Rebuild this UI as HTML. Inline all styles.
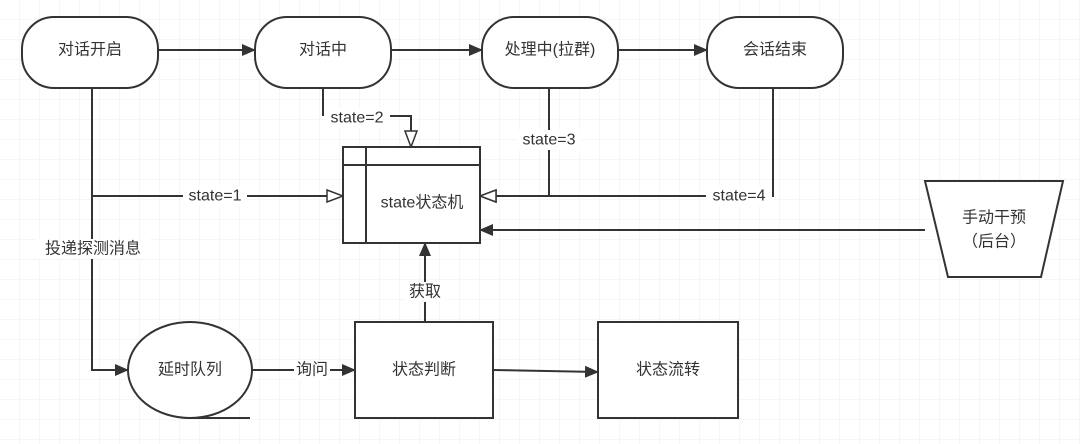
<!DOCTYPE html>
<html><head><meta charset="utf-8"><style>
html,body{margin:0;padding:0;background:#fff}
svg{display:block}
text{font-family:"Liberation Sans","Noto Sans CJK SC",sans-serif;font-size:16px;fill:#333;text-anchor:middle;dominant-baseline:central}
</style></head><body>
<svg width="1080" height="444" viewBox="0 0 1080 444" xmlns="http://www.w3.org/2000/svg">
<defs>
<pattern id="g" width="20" height="20" patternUnits="userSpaceOnUse">
<path d="M20 0V20M0 20H20" fill="none" stroke="#ececec" stroke-width="1"/>
</pattern>
<marker id="f" markerWidth="14" markerHeight="12" refX="13" refY="6" orient="auto" markerUnits="userSpaceOnUse">
<path d="M0 0L14 6L0 12Z" fill="#333"/></marker>
<marker id="h" markerWidth="18" markerHeight="14" refX="17" refY="7" orient="auto" markerUnits="userSpaceOnUse">
<path d="M1 1L17 7L1 13Z" fill="#fff" stroke="#333" stroke-width="1.5"/></marker>
</defs>
<rect width="1080" height="444" fill="url(#g)"/>
<g stroke="#333" stroke-width="2" fill="#fff">
<rect x="22" y="17" width="136" height="71" rx="32"/>
<rect x="255" y="17" width="136" height="71" rx="32"/>
<rect x="482" y="17" width="136" height="71" rx="32"/>
<rect x="707" y="17" width="136" height="71" rx="32"/>
<rect x="343" y="147" width="137" height="96"/>
<line x1="366" y1="147" x2="366" y2="243"/>
<line x1="343" y1="165" x2="480" y2="165"/>
<ellipse cx="190" cy="370" rx="62" ry="48"/>
<rect x="355" y="322" width="138" height="96"/>
<rect x="598" y="322" width="140" height="96"/>
<path d="M925 181H1063L1041 277H948Z"/>
</g>
<g stroke="#333" stroke-width="2" fill="none">
<line x1="158" y1="50" x2="255" y2="50" marker-end="url(#f)"/>
<line x1="391" y1="50" x2="482" y2="50" marker-end="url(#f)"/>
<line x1="618" y1="50" x2="707" y2="50" marker-end="url(#f)"/>
<path d="M323 88V116"/>
<path d="M390 116H411V147" marker-end="url(#h)"/>
<path d="M549 88V196H480" marker-end="url(#h)"/>
<path d="M773 88V196H480" marker-end="url(#h)"/>
<path d="M92 88V370H128" marker-end="url(#f)"/>
<path d="M92 196H343" marker-end="url(#h)"/>
<path d="M925 230H480" marker-end="url(#f)"/>
<path d="M425 322V243" marker-end="url(#f)"/>
<path d="M252 370H355" marker-end="url(#f)"/>
<path d="M493 370L598 372" marker-end="url(#f)"/>
<path d="M190 418H250"/>
</g>
<g fill="#fff">
<rect x="325" y="108" width="64" height="20"/>
<rect x="517" y="130" width="64" height="20"/>
<rect x="706" y="186" width="66" height="20"/>
<rect x="183" y="186" width="64" height="20"/>
<rect x="36" y="239" width="114" height="20"/>
<rect x="294" y="360" width="36" height="20"/>
<rect x="405" y="282" width="40" height="20"/>
</g>
<text x="90" y="50">对话开启</text>
<text x="323" y="50">对话中</text>
<text x="550" y="50">处理中(拉群)</text>
<text x="775" y="50">会话结束</text>
<text x="357" y="118">state=2</text>
<text x="549" y="140">state=3</text>
<text x="739" y="196">state=4</text>
<text x="215" y="196">state=1</text>
<text x="422" y="203">state状态机</text>
<text x="93" y="249">投递探测消息</text>
<text x="190" y="370">延时队列</text>
<text x="312" y="370">询问</text>
<text x="425" y="292">获取</text>
<text x="424" y="370">状态判断</text>
<text x="668" y="370">状态流转</text>
<text x="994" y="218">手动干预</text>
<text x="994" y="242">（后台）</text>
</svg>
</body></html>
